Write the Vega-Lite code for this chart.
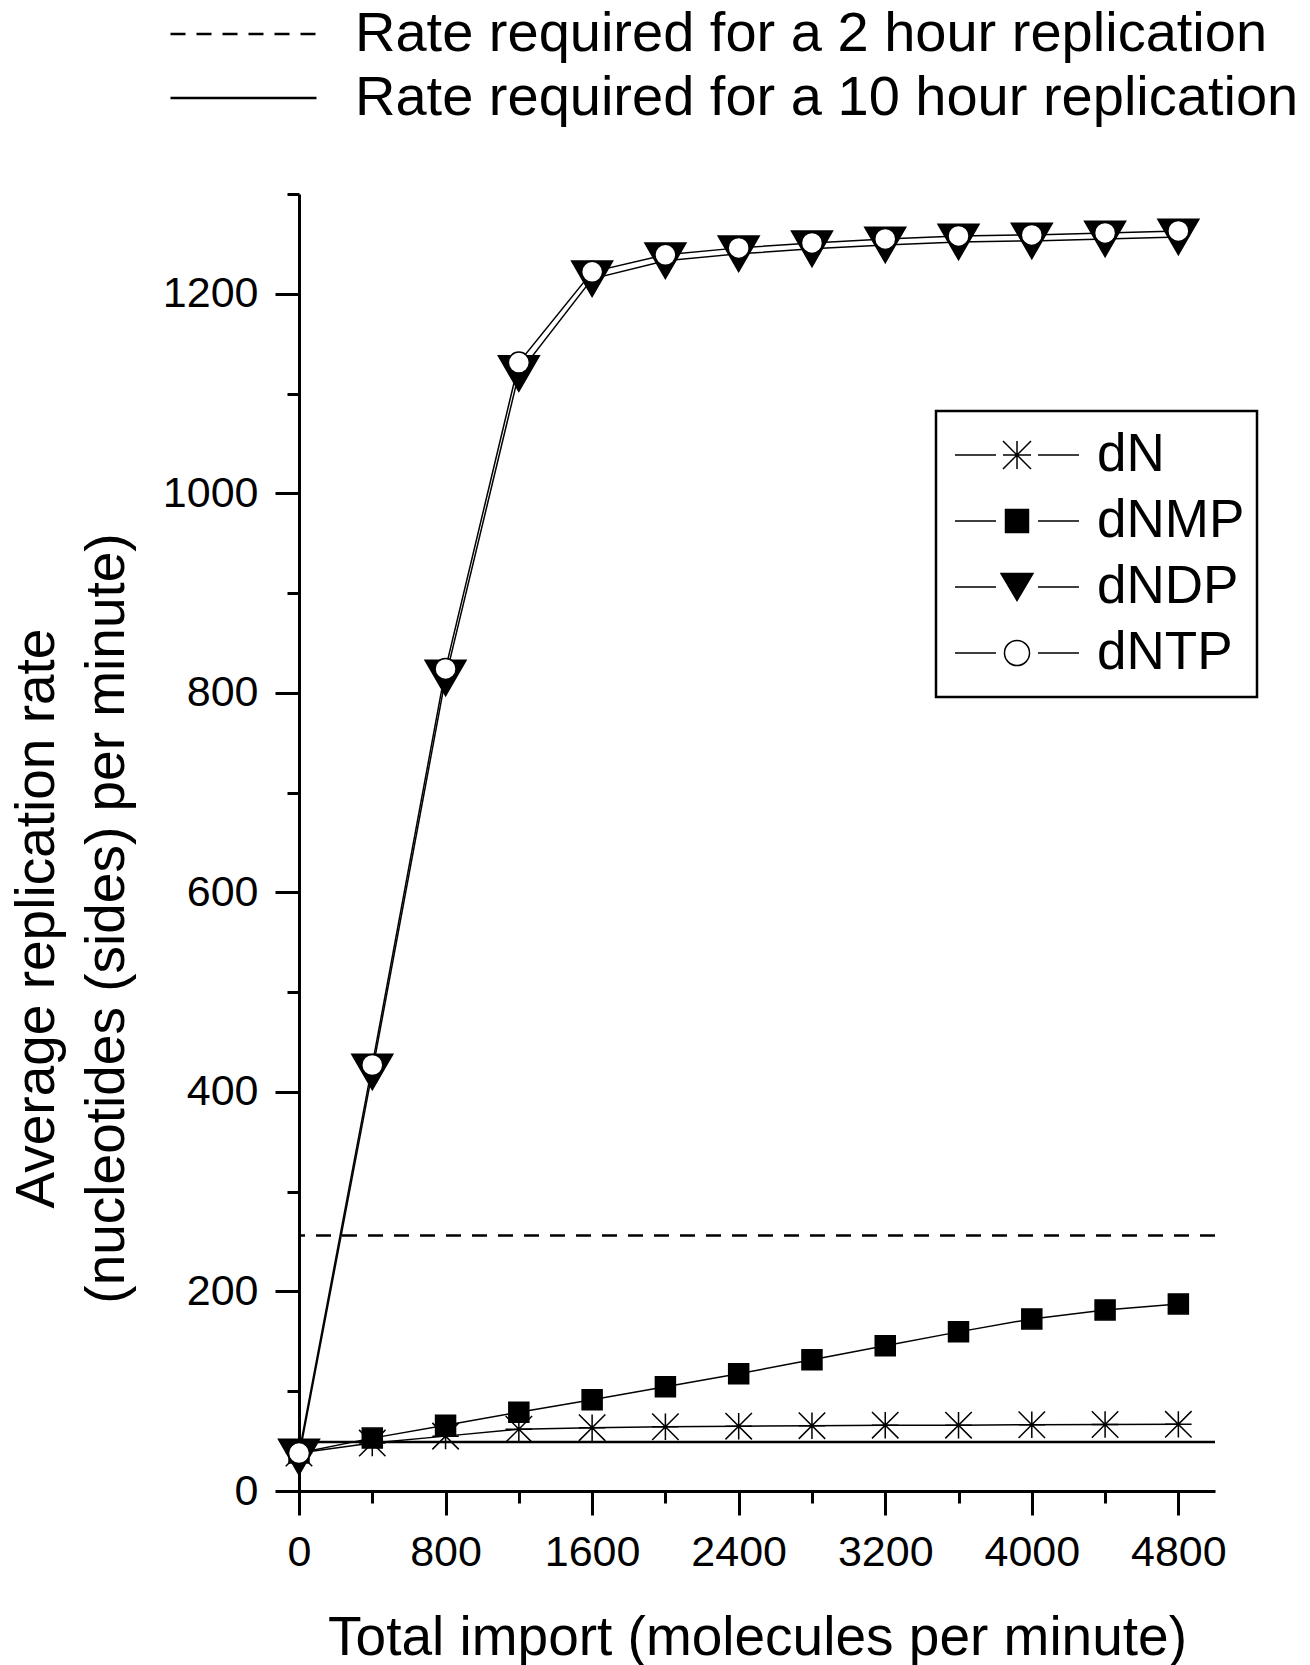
{
  "$schema": "https://vega.github.io/schema/vega-lite/v6.json",
  "autosize": "none",
  "width": 916,
  "height": 1297,
  "padding": {"left": 299, "top": 194, "right": 95, "bottom": 174},
  "background": "white",
  "config": {
    "font": "Liberation Sans",
    "view": {"stroke": null},
    "axis": {
      "grid": false,
      "domainColor": "black",
      "domainWidth": 3,
      "tickColor": "black",
      "tickWidth": 3,
      "labelColor": "black",
      "labelFontSize": 43,
      "titleColor": "black",
      "titleFontSize": 55,
      "titleFontWeight": "normal",
      "labelOverlap": false
    }
  },
  "datasets": {
    "series": [
      {"series": "dN", "x": 0, "y": 38}, {"series": "dN", "x": 400, "y": 48}, {"series": "dN", "x": 800, "y": 55},
      {"series": "dN", "x": 1200, "y": 62}, {"series": "dN", "x": 1600, "y": 63.5}, {"series": "dN", "x": 2000, "y": 64.4},
      {"series": "dN", "x": 2400, "y": 65}, {"series": "dN", "x": 2800, "y": 65.5}, {"series": "dN", "x": 3200, "y": 66},
      {"series": "dN", "x": 3600, "y": 66}, {"series": "dN", "x": 4000, "y": 66.4}, {"series": "dN", "x": 4400, "y": 66.7},
      {"series": "dN", "x": 4800, "y": 66.8},
      {"series": "dNMP", "x": 0, "y": 38}, {"series": "dNMP", "x": 400, "y": 53}, {"series": "dNMP", "x": 800, "y": 66},
      {"series": "dNMP", "x": 1200, "y": 79}, {"series": "dNMP", "x": 1600, "y": 91.5}, {"series": "dNMP", "x": 2000, "y": 104.5},
      {"series": "dNMP", "x": 2400, "y": 117.5}, {"series": "dNMP", "x": 2800, "y": 131.5}, {"series": "dNMP", "x": 3200, "y": 145.5},
      {"series": "dNMP", "x": 3600, "y": 159.5}, {"series": "dNMP", "x": 4000, "y": 172.5}, {"series": "dNMP", "x": 4400, "y": 181.5},
      {"series": "dNMP", "x": 4800, "y": 187.5},
      {"series": "dNDP", "x": 0, "y": 34}, {"series": "dNDP", "x": 400, "y": 420}, {"series": "dNDP", "x": 800, "y": 815},
      {"series": "dNDP", "x": 1200, "y": 1120}, {"series": "dNDP", "x": 1600, "y": 1215}, {"series": "dNDP", "x": 2000, "y": 1233},
      {"series": "dNDP", "x": 2400, "y": 1240}, {"series": "dNDP", "x": 2800, "y": 1245}, {"series": "dNDP", "x": 3200, "y": 1249},
      {"series": "dNDP", "x": 3600, "y": 1252}, {"series": "dNDP", "x": 4000, "y": 1253}, {"series": "dNDP", "x": 4400, "y": 1255},
      {"series": "dNDP", "x": 4800, "y": 1257},
      {"series": "dNTP", "x": 0, "y": 38}, {"series": "dNTP", "x": 400, "y": 427}, {"series": "dNTP", "x": 800, "y": 824},
      {"series": "dNTP", "x": 1200, "y": 1131}, {"series": "dNTP", "x": 1600, "y": 1222}, {"series": "dNTP", "x": 2000, "y": 1239},
      {"series": "dNTP", "x": 2400, "y": 1246}, {"series": "dNTP", "x": 2800, "y": 1251}, {"series": "dNTP", "x": 3200, "y": 1255},
      {"series": "dNTP", "x": 3600, "y": 1258}, {"series": "dNTP", "x": 4000, "y": 1259}, {"series": "dNTP", "x": 4400, "y": 1261},
      {"series": "dNTP", "x": 4800, "y": 1263}
    ],
    "refs": [
      {"label": "Rate required for a 2 hour replication", "y": 256},
      {"label": "Rate required for a 10 hour replication", "y": 49}
    ]
  },
  "layer": [
    {
      "data": {"name": "refs"},
      "mark": {"type": "rule", "color": "black", "strokeWidth": 2.5},
      "encoding": {
        "y": {"field": "y", "type": "quantitative", "scale": {"domain": [0, 1300], "nice": false, "zero": false}},
        "strokeDash": {
          "field": "label",
          "type": "nominal",
          "scale": {
            "domain": ["Rate required for a 2 hour replication", "Rate required for a 10 hour replication"],
            "range": [[15, 11], [1, 0]]
          },
          "legend": {
            "orient": "none",
            "legendX": -130,
            "legendY": -191,
            "title": null,
            "padding": 0,
            "symbolType": "stroke",
            "symbolSize": 21316,
            "symbolStrokeWidth": 2.5,
            "symbolStrokeColor": "black",
            "labelFontSize": 56,
            "labelColor": "black",
            "labelOffset": 37,
            "labelLimit": 2000,
            "clipHeight": 62
          }
        }
      }
    },
    {
      "data": {"name": "series"},
      "mark": {"type": "line", "color": "black", "strokeWidth": 1.5},
      "encoding": {
        "x": {
          "field": "x", "type": "quantitative",
          "scale": {"domain": [0, 5000], "nice": false, "zero": false},
          "axis": {
            "title": "Total import (molecules per minute)",
            "values": [0, 400, 800, 1200, 1600, 2000, 2400, 2800, 3200, 3600, 4000, 4400, 4800],
            "format": "d",
            "labelExpr": "datum.value % 800 === 0 ? datum.label : ''",
            "labelFlush": false,
            "labelPadding": 16,
            "tickSize": {"condition": {"test": "datum.value % 800 === 0", "value": 24}, "value": 12},
            "titleBaseline": "alphabetic",
            "titleY": 163
          }
        },
        "y": {
          "field": "y", "type": "quantitative",
          "scale": {"domain": [0, 1300], "nice": false, "zero": false},
          "axis": {
            "title": ["Average replication rate", "(nucleotides (sides) per minute)"],
            "values": [0, 100, 200, 300, 400, 500, 600, 700, 800, 900, 1000, 1100, 1200, 1300],
            "format": "d",
            "labelExpr": "datum.value % 200 === 0 ? datum.label : ''",
            "labelPadding": 17,
            "tickSize": {"condition": {"test": "datum.value % 200 === 0", "value": 24}, "value": 12},
            "titleBaseline": "alphabetic",
            "titleX": -246,
            "titleY": 724,
            "titleLineHeight": 70
          }
        },
        "detail": {"field": "series", "type": "nominal"}
      }
    },
    {
      "data": {"name": "series"},
      "transform": [{"filter": "datum.series === 'dN'"}],
      "mark": {"type": "point", "shape": "M-1,-1L1,1M-1,1L1,-1M0,-1V1M-1,0H1", "size": 700, "filled": false, "stroke": "black", "strokeWidth": 1.5, "opacity": 1},
      "encoding": {
        "x": {"field": "x", "type": "quantitative"},
        "y": {"field": "y", "type": "quantitative"}
      }
    },
    {
      "data": {"name": "series"},
      "transform": [{"filter": "datum.series === 'dNMP'"}],
      "mark": {"type": "point", "shape": "square", "size": 400, "filled": true, "fill": "black", "stroke": "black", "strokeWidth": 1.5, "opacity": 1},
      "encoding": {
        "x": {"field": "x", "type": "quantitative"},
        "y": {"field": "y", "type": "quantitative"}
      }
    },
    {
      "data": {"name": "series"},
      "transform": [{"filter": "datum.series === 'dNDP'"}],
      "mark": {"type": "point", "shape": "triangle-down", "size": 1681, "filled": true, "fill": "black", "stroke": "black", "strokeWidth": 1.5, "opacity": 1},
      "encoding": {
        "x": {"field": "x", "type": "quantitative"},
        "y": {"field": "y", "type": "quantitative"}
      }
    },
    {
      "data": {"name": "series"},
      "transform": [{"filter": "datum.series === 'dNTP'"}],
      "mark": {"type": "point", "shape": "circle", "size": 441, "filled": true, "fill": "white", "stroke": "black", "strokeWidth": 1.5, "opacity": 1},
      "encoding": {
        "x": {"field": "x", "type": "quantitative"},
        "y": {"field": "y", "type": "quantitative"}
      }
    },
    {
      "data": {"name": "series"},
      "mark": {"type": "point", "filled": true, "stroke": "black", "strokeWidth": 1.5, "opacity": 0},
      "encoding": {
        "x": {"field": "x", "type": "quantitative"},
        "y": {"field": "y", "type": "quantitative"},
        "shape": {
          "field": "series", "type": "nominal",
          "scale": {
            "domain": ["dN", "dNMP", "dNDP", "dNTP"],
            "range": [
              "M-0.912,0H-0.309M0.309,0H0.912M-0.206,-0.206L0.206,0.206M-0.206,0.206L0.206,-0.206M0,-0.206V0.206M-0.206,0H0.206",
              "M-0.912,0H-0.309M0.309,0H0.912M-0.169,-0.169H0.169V0.169H-0.169Z",
              "M-0.912,0H-0.309M0.309,0H0.912M-0.235,-0.199H0.235L0,0.199Z",
              "M-0.912,0H-0.309M0.309,0H0.912M0.184,0A0.184,0.184,0,1,1,-0.184,0A0.184,0.184,0,1,1,0.184,0Z"
            ]
          },
          "legend": {
            "orient": "none",
            "legendX": 637,
            "legendY": 217,
            "title": null,
            "padding": 12,
            "strokeColor": "black",
            "symbolSize": 18496,
            "symbolStrokeWidth": 1.5,
            "symbolStrokeColor": "black",
            "symbolOpacity": 1,
            "labelFontSize": 53,
            "labelColor": "black",
            "labelOffset": 11,
            "labelLimit": 1000,
            "clipHeight": 64,
            "encode": {
              "legend": {"update": {"strokeWidth": {"value": 2.5}}}
            }
          }
        },
        "fill": {
          "field": "series", "type": "nominal",
          "scale": {"domain": ["dN", "dNMP", "dNDP", "dNTP"], "range": ["black", "black", "black", "white"]},
          "legend": {
            "orient": "none",
            "legendX": 637,
            "legendY": 217,
            "title": null,
            "padding": 12,
            "strokeColor": "black",
            "symbolSize": 18496,
            "symbolStrokeWidth": 1.5,
            "symbolStrokeColor": "black",
            "symbolOpacity": 1,
            "labelFontSize": 53,
            "labelColor": "black",
            "labelOffset": 11,
            "labelLimit": 1000,
            "clipHeight": 64,
            "encode": {
              "legend": {"update": {"strokeWidth": {"value": 2.5}}}
            }
          }
        }
      }
    }
  ]
}
